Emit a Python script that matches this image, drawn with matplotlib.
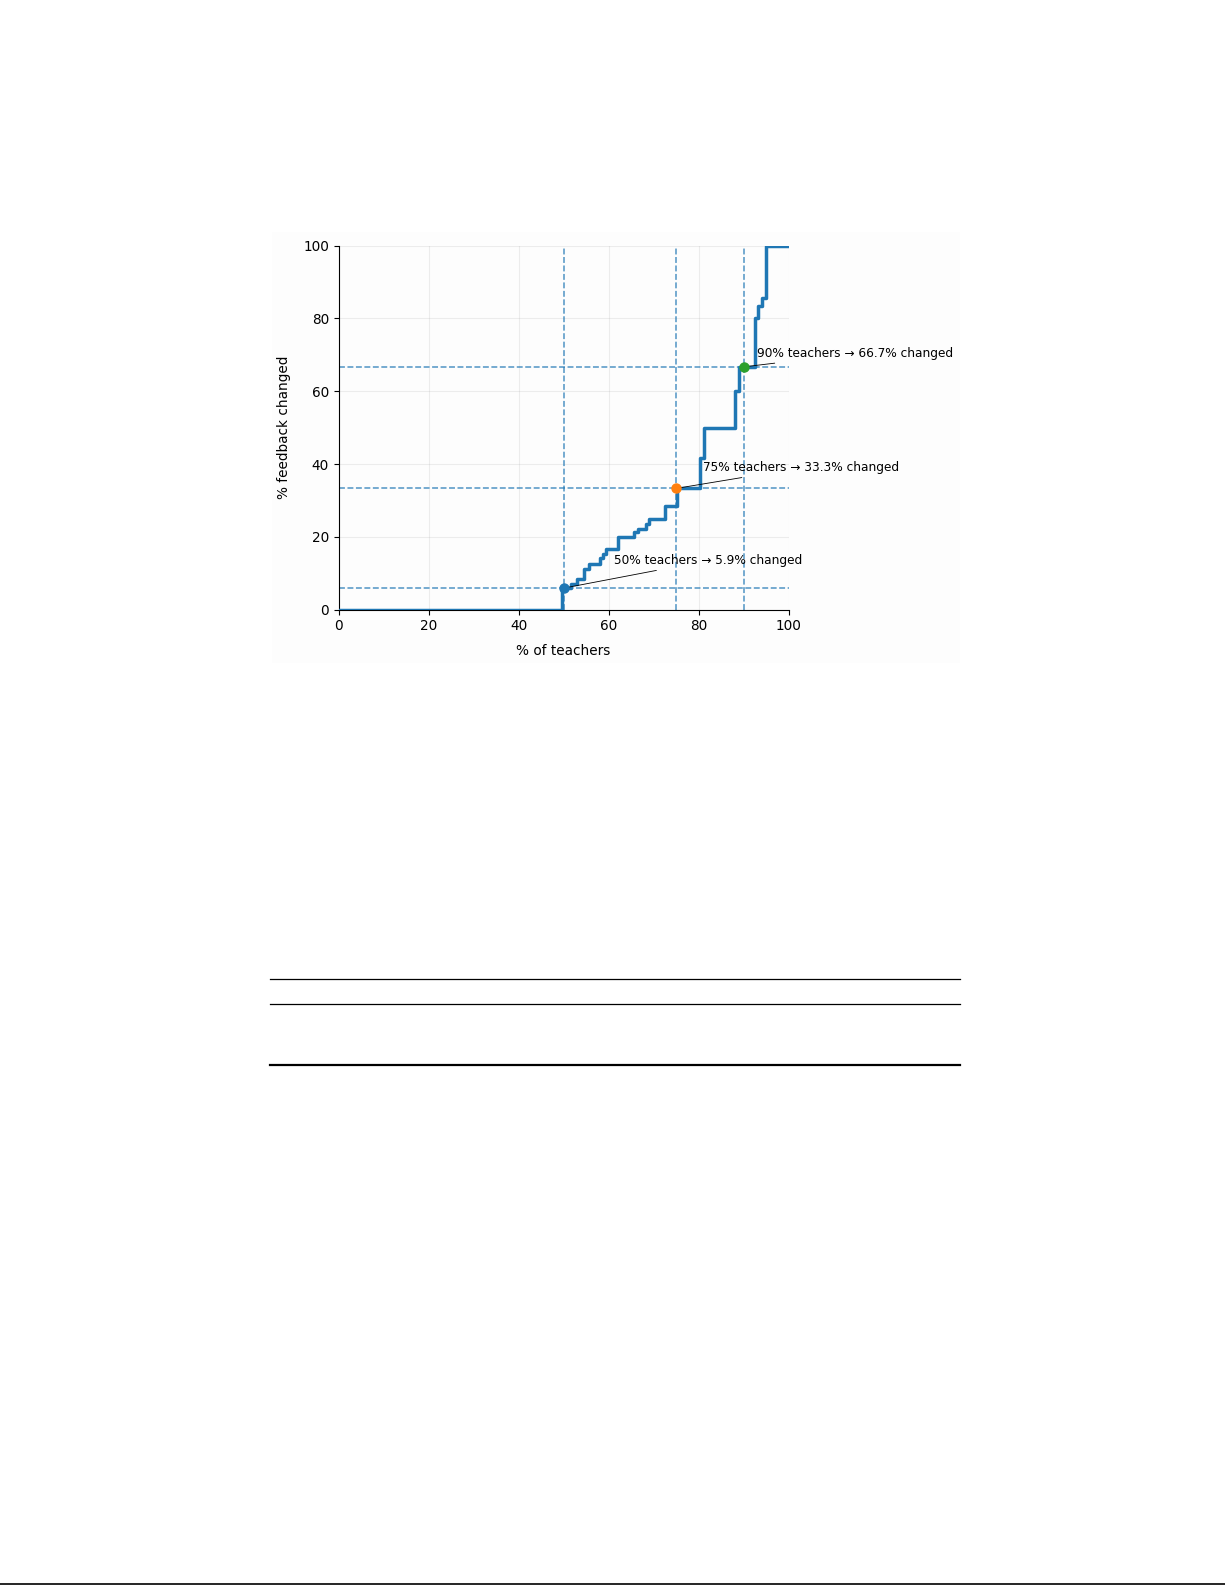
import matplotlib
matplotlib.use("Agg")
import matplotlib.pyplot as plt
from matplotlib.patches import Rectangle

# step curve: share of teachers (x) vs share of their feedback changed (y)
teacher_pct = [0, 49.7, 51.7, 53.0, 54.5, 55.6, 58.0, 58.8, 59.5, 62.0, 65.7, 66.6,
               68.2, 69.0, 72.6, 75.1, 80.4, 81.1, 88.1, 89.0, 92.5, 93.3, 94.0,
               94.9, 100]
changed_pct = [0, 5.9, 7.1, 8.3, 11.1, 12.5, 14.3, 15.4, 16.7, 20.0, 21.4, 22.2,
               23.5, 25.0, 28.6, 33.3, 41.7, 50.0, 60.0, 66.7, 80.0, 83.3, 85.7,
               100, 100]

# highlighted percentiles
marks_x = [50, 75, 90]
marks_y = [5.9, 33.3, 66.7]
text_pos = [(61.1, 12.5), (80.9, 38.0), (93.0, 69.4)]

ticks = [0, 20, 40, 60, 80, 100]

W, H = 1225, 1585
fig = plt.figure(figsize=(W / 100, H / 100), dpi=100)

# page decorations (faint chart frame, empty table rules, bottom rule)
bg = fig.add_axes([0, 0, 1, 1], zorder=-1)
bg.set_xlim(0, W)
bg.set_ylim(H, 0)
bg.axis("off")
bg.add_patch(Rectangle((272, 232), 688, 431, facecolor="#fdfdfd", edgecolor="none"))
bg.plot([270, 960], [979, 979], color="black", lw=0.9)
bg.plot([270, 960], [1004, 1004], color="black", lw=0.9)
bg.plot([270, 960], [1065, 1065], color="black", lw=1.6)
bg.plot([0, W], [1584, 1584], color="black", lw=1.2)

ax = fig.add_axes([338.7 / W, 1 - 609.6 / H, 449.9 / W, 363.9 / H])
ax.set_facecolor("none")

ax.step(teacher_pct, changed_pct, where="post", color="C0", lw=2.5, zorder=3)

for i, (px, py) in enumerate(zip(marks_x, marks_y)):
    ax.axvline(px, color="C0", ls="--", lw=1.15, alpha=0.75, zorder=2)
    ax.axhline(py, color="C0", ls="--", lw=1.15, alpha=0.75, zorder=2)
    ax.plot(px, py, "o", color="C%d" % i, ms=6.5, zorder=4)
    ax.annotate(f"{px}% teachers \u2192 {py:.1f}% changed", xy=(px, py),
                xytext=text_pos[i], fontsize=8.7,
                arrowprops=dict(arrowstyle="-", color="black", lw=0.6))

ax.set_xlim(0, 100)
ax.set_ylim(0, 100)
ax.set_xticks(ticks)
ax.set_yticks(ticks)
ax.tick_params(labelsize=9.8)
ax.grid(True, alpha=0.22, lw=0.8)
ax.spines["top"].set_visible(False)
ax.spines["right"].set_visible(False)
ax.set_xlabel("% of teachers", fontsize=9.8, labelpad=7.5)
ax.set_ylabel("% feedback changed", fontsize=9.8, labelpad=9)

fig.savefig("out.png", dpi=100)
